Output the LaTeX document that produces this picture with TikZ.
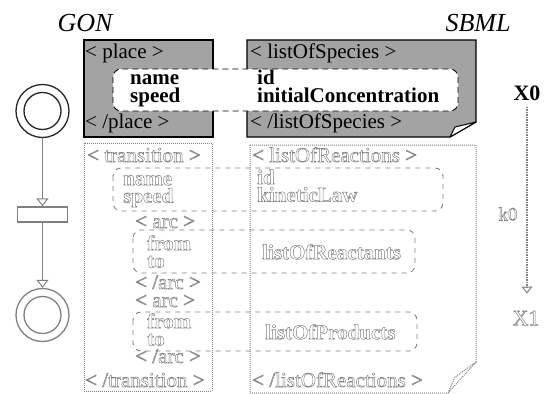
\documentclass[tikz,border=0pt]{standalone}
\usepackage{fontspec}
\setmainfont{Liberation Serif}
\usetikzlibrary{arrows.meta}
\definecolor{stip}{gray}{0.64}
\definecolor{holc}{gray}{0.5}
\newcommand\hol[1]{\special{pdf:literal direct 1 Tr 0.5 w}#1\special{pdf:literal direct 0 Tr}}
\newcommand\fs{\rule{0pt}{15pt}}
\begin{document}
\begin{tikzpicture}[x=1pt,y=-1pt,
  lbl/.style={inner sep=0pt, anchor=base west, font=\fontsize{21}{21}\selectfont},
  ml/.style={inner sep=0pt, anchor=north west, align=left, font=\fontsize{21}{17.5}\selectfont\bfseries},
  htag/.style={lbl, text=holc},
  hml/.style={ml, text=holc},
  ttl/.style={inner sep=0pt, font=\fontsize{26}{26}\selectfont\itshape},
  gbox/.style={draw=black, line width=1.3pt, fill=stip},
  band/.style={draw=black, dash pattern=on 6pt off 4pt, line width=0.9pt, rounded corners=8pt},
  hband/.style={draw=holc, dash pattern=on 5pt off 5pt, line width=0.9pt, rounded corners=8pt},
  hbox/.style={draw=holc, densely dotted, line width=1pt},
  place/.style={circle, draw=#1, line width=1.3pt, minimum size=53pt, inner sep=0pt},
  trans/.style={draw=gray, line width=1.3pt, minimum width=50pt, minimum height=15pt, inner sep=0pt},
  conn/.style={gray, line width=1.5pt, -{Triangle[open, length=8pt, width=12pt, line width=1pt]}},
  varr/.style={holc, densely dotted, line width=1.5pt, -{Triangle[open, length=7pt, width=11pt, line width=1pt]}}
]
\useasboundingbox (0,0) rectangle (547,394);

% titles
\node[ttl] (gon) at (85,23) {GON};
\node[ttl] (sbml) at (478,23) {SBML};

% top grey boxes
\path[gbox] (84,40) rectangle (213,137);
\path[gbox] (247,40) -- (476,40) -- (476,122) -- (450,137) -- (247,137) -- cycle;
\path[draw=black, line width=1pt, fill=white, line join=round] (476,122) -- (455,127) -- (450,137) -- cycle;
\path[band, fill=white] (113,69) rectangle (458,111);

\node[lbl] (plo) at (85,58.5) {< place >};
\node[ml] (pfields) at (130,69.5) {\fs name\\speed};
\node[lbl] (plc) at (85,128) {< /place >};

\node[lbl] (slo) at (250,58.5) {< listOfSpecies >};
\node[ml] (sfields) at (257,69.5) {\fs id\\initialConcentration};
\node[lbl] (slc) at (250,128) {< /listOfSpecies >};

% bottom hollow boxes
\draw[hbox] (84,143) rectangle (212,391);
\draw[hbox] (250,145) -- (476,145) -- (476,362) -- (448,393) -- (250,393) -- cycle;
\draw[hbox] (476,362) -- (455,377) -- (448,393);
\draw[hband] (113,168) rectangle (443,211);
\draw[hband] (133,230) rectangle (415,273);
\draw[hband] (133,312) rectangle (417,351);

\node[htag] (tlo) at (87,162) {\hol{< transition >}};
\node[hml] (tfields) at (123,170) {\fs\hol{name}\\\hol{speed}};
\node[htag] (a1o) at (135,228) {\hol{< arc >}};
\node[hml] (a1ft) at (147,235) {\fs\hol{from}\\\hol{to}};
\node[htag] (a1c) at (135,289) {\hol{< /arc >}};
\node[htag] (a2o) at (135,307) {\hol{< arc >}};
\node[hml] (a2ft) at (147,313) {\fs\hol{from}\\\hol{to}};
\node[htag] (a2c) at (135,363) {\hol{< /arc >}};
\node[htag] (tlc) at (85,387) {\hol{< /transition >}};

\node[htag] (rlo) at (252,162) {\hol{< listOfReactions >}};
\node[hml] (rfields) at (257,169) {\fs\hol{id}\\\hol{kineticLaw}};
\node[hml] (rre) at (262,244) {\fs\hol{listOfReactants}};
\node[hml] (rpr) at (265,324) {\fs\hol{listOfProducts}};
\node[htag] (rlc) at (252,387) {\hol{< /listOfReactions >}};

% petri net
\node[place=black!85] (p1) at (42.5,111) {};
\draw[black!85, line width=1.3pt] (p1.center) circle (18.5pt);
\node[trans] (t1) at (42.5,214.5) {};
\node[place=gray] (p2) at (42.5,315) {};
\draw[gray, line width=1.3pt] (p2.center) circle (18.5pt);
\draw[conn] (p1) -- (t1);
\draw[conn] (t1) -- (p2);

% reaction arrow
\node[inner sep=0pt, font=\fontsize{22}{22}\selectfont\bfseries] (x0) at (527,93) {X0};
\node[inner sep=0pt, text=holc, font=\fontsize{22}{22}\selectfont] (x1) at (526,318) {\hol{X1}};
\node[inner sep=0pt, text=holc, font=\fontsize{19}{19}\selectfont] (k0) at (508,214) {\hol{k0}};
\draw[varr, shorten <=6pt, shorten >=17pt] (x0.south) -- (x0.south |- x1.north);
\end{tikzpicture}
\end{document}
